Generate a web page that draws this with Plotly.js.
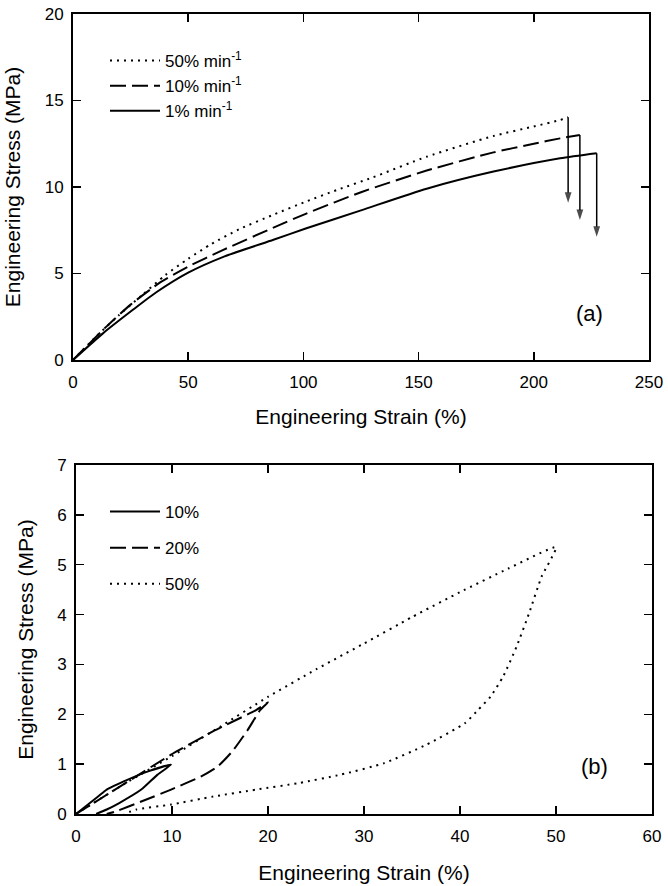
<!DOCTYPE html>
<html>
<head>
<meta charset="utf-8">
<script src="https://cdn.plot.ly/plotly-3.0.1.min.js"></script>
<style>html,body{margin:0;padding:0;background:#fff;}#chart{width:668px;height:886px;}</style>
</head>
<body>
<div id="chart"></div>
<script>
// ---- Panel (a): tensile tests at three strain rates ----
const rateNames = ['50% min<sup>-1</sup>', '10% min<sup>-1</sup>', '1% min<sup>-1</sup>'];
const strain50 = [0, 10, 20, 30, 40, 50, 60, 72, 87, 101, 115, 130, 153.5, 182.5, 200, 211.4, 214.9];
const stress50 = [0, 1.35, 2.6, 3.75, 4.9, 5.85, 6.7, 7.55, 8.4, 9.15, 9.85, 10.55, 11.75, 12.95, 13.5, 13.87, 14.03];
const strain10 = [0, 14.5, 25, 38, 50, 65, 87, 101, 125, 153.5, 182.5, 200, 211.4, 220];
const stress10 = [0, 1.93, 3.2, 4.5, 5.4, 6.35, 7.65, 8.45, 9.7, 10.95, 12.0, 12.5, 12.81, 13.0];
const strain1 = [0, 13, 26, 36, 50, 65, 87, 101, 125, 153.5, 182.5, 211.4, 227.3];
const stress1 = [0, 1.54, 2.9, 3.9, 5.05, 5.95, 6.95, 7.6, 8.65, 9.9, 10.89, 11.66, 11.95];
// failure arrows
const arrowStrain = [214.9, 220, 227.3];
const arrowTop = [14.03, 13.0, 11.95];
const arrowBottom = [9.09, 8.09, 7.13];

// ---- Panel (b): loading/unloading cycles ----
const cycleNames = ['10%', '20%', '50%'];
const cycleStrain10 = [0, 2.3, 3.2, 5.4, 7.6, 9.9, 8.5, 6.8, 4.5, 3.2, 2.1];
const cycleStress10 = [0, 0.35, 0.49, 0.69, 0.86, 0.99, 0.79, 0.49, 0.22, 0.09, 0];
const cycleStrain20 = [0, 5.4, 9.9, 14.3, 18.8, 20, 19.2, 17.9, 16.3, 14.8, 13.0, 9.9, 6.8, 4.1, 3.2];
const cycleStress20 = [0, 0.65, 1.19, 1.66, 2.09, 2.24, 2.09, 1.69, 1.26, 0.96, 0.75, 0.49, 0.25, 0.05, 0];
const cycleStrain50 = [0, 5, 10, 15, 20, 25, 30, 35, 40, 45, 50, 48.5, 47.2, 45.9, 44.5, 43.2, 41.9, 40.5, 36.5, 32.1, 27.6, 23.2, 18.8, 14.3, 9.9, 6.3, 5.0];
const cycleStress50 = [0, 0.6, 1.16, 1.75, 2.35, 2.9, 3.42, 3.95, 4.45, 4.92, 5.35, 4.76, 4.03, 3.36, 2.76, 2.36, 2.09, 1.82, 1.39, 1.02, 0.79, 0.62, 0.49, 0.35, 0.19, 0.09, 0];

const topTicksX = [0, 50, 100, 150, 200, 250];
const topTicksY = [0, 5, 10, 15, 20];
const botTicksX = [0, 10, 20, 30, 40, 50, 60];
const botTicksY = [0, 1, 2, 3, 4, 5, 6, 7];

const FONT = 'Liberation Sans, Arial, sans-serif';
const DOT = '2px,5px';
const DASH = '16px,6px';

const traces = [
  {x: strain50, y: stress50, name: rateNames[0], xaxis: 'x', yaxis: 'y', legend: 'legend', legendgroup: 'a1',
   mode: 'lines', line: {color: '#000', width: 2, dash: DOT, shape: 'spline', smoothing: 0.6}},
  {x: strain10, y: stress10, name: rateNames[1], xaxis: 'x', yaxis: 'y', legend: 'legend', legendgroup: 'a2',
   mode: 'lines', line: {color: '#000', width: 2, dash: DASH, shape: 'spline', smoothing: 0.6}},
  {x: strain1, y: stress1, name: rateNames[2], xaxis: 'x', yaxis: 'y', legend: 'legend', legendgroup: 'a3',
   mode: 'lines', line: {color: '#000', width: 2, shape: 'spline', smoothing: 0.6}},
  {x: cycleStrain10, y: cycleStress10, name: cycleNames[0], xaxis: 'x2', yaxis: 'y2', legend: 'legend2', legendgroup: 'b1',
   mode: 'lines', line: {color: '#000', width: 2, shape: 'spline', smoothing: 0.5}},
  {x: cycleStrain20, y: cycleStress20, name: cycleNames[1], xaxis: 'x2', yaxis: 'y2', legend: 'legend2', legendgroup: 'b2',
   mode: 'lines', line: {color: '#000', width: 2, dash: DASH, shape: 'spline', smoothing: 0.5}},
  {x: cycleStrain50, y: cycleStress50, name: cycleNames[2], xaxis: 'x2', yaxis: 'y2', legend: 'legend2', legendgroup: 'b3',
   mode: 'lines', line: {color: '#000', width: 2, dash: DOT, shape: 'spline', smoothing: 0.5}}
];

// failure arrows as line traces with an arrow marker at the lower end
arrowStrain.forEach((s, i) => {
  traces.push({
    x: [s, s], y: [arrowTop[i], arrowBottom[i]], xaxis: 'x', yaxis: 'y', showlegend: false,
    mode: 'lines+markers', line: {color: '#000', width: 1.5},
    marker: {symbol: 'arrow', angleref: 'previous', size: [0, 11], color: '#000',
             line: {width: 0}}, hoverinfo: 'skip'
  });
});

const annotations = [
  {xref: 'x', yref: 'y', x: 224, y: 2.66, text: '(a)', showarrow: false,
   font: {family: FONT, size: 22, color: '#000'}},
  {xref: 'x2', yref: 'y2', x: 54, y: 0.96, text: '(b)', showarrow: false,
   font: {family: FONT, size: 22, color: '#000'}}
];

function axis(extra) {
  return Object.assign({
    showgrid: false, zeroline: false, showline: true, linecolor: '#000', linewidth: 2,
    mirror: 'ticks', ticks: 'inside', ticklen: 8, tickwidth: 1.5, tickcolor: '#000',
    tickfont: {family: FONT, size: 17, color: '#000'}, automargin: false, fixedrange: true
  }, extra);
}
const titleFont = {family: FONT, size: 21, color: '#000'};

const layout = {
  width: 668, height: 886,
  margin: {l: 0, r: 0, t: 0, b: 0},
  paper_bgcolor: '#fff', plot_bgcolor: '#fff',
  font: {family: FONT, color: '#000'},
  xaxis: axis({domain: [73/668, 649/668], anchor: 'y', range: [0, 250], tickvals: topTicksX,
    ticklabelstandoff: 6, title: {text: 'Engineering Strain (%)', font: titleFont, standoff: 18}}),
  yaxis: axis({domain: [(886-360)/886, (886-14)/886], anchor: 'x', range: [0, 20], tickvals: topTicksY,
    ticklabelstandoff: 4, title: {text: 'Engineering Stress (MPa)', font: titleFont, standoff: 18}}),
  xaxis2: axis({domain: [76/668, 652/668], anchor: 'y2', range: [0, 60], tickvals: botTicksX,
    ticklabelstandoff: 6, title: {text: 'Engineering Strain (%)', font: titleFont, standoff: 20}}),
  yaxis2: axis({domain: [(886-814)/886, (886-465)/886], anchor: 'x2', range: [0, 7], tickvals: botTicksY,
    ticklabelstandoff: 4, title: {text: 'Engineering Stress (MPa)', font: titleFont, standoff: 18}}),
  legend: {x: 105/668, y: (886-43)/886, xanchor: 'left', yanchor: 'top', bgcolor: 'rgba(0,0,0,0)',
    font: {family: FONT, size: 17, color: '#000'}, itemwidth: 50, tracegroupgap: 0},
  legend2: {x: 105/668, y: (886-494)/886, xanchor: 'left', yanchor: 'top', bgcolor: 'rgba(0,0,0,0)',
    font: {family: FONT, size: 17, color: '#000'}, itemwidth: 50, tracegroupgap: 11},
  showlegend: true,
  annotations: annotations
};

Plotly.newPlot('chart', traces, layout, {staticPlot: true, displayModeBar: false});
</script>
</body>
</html>
